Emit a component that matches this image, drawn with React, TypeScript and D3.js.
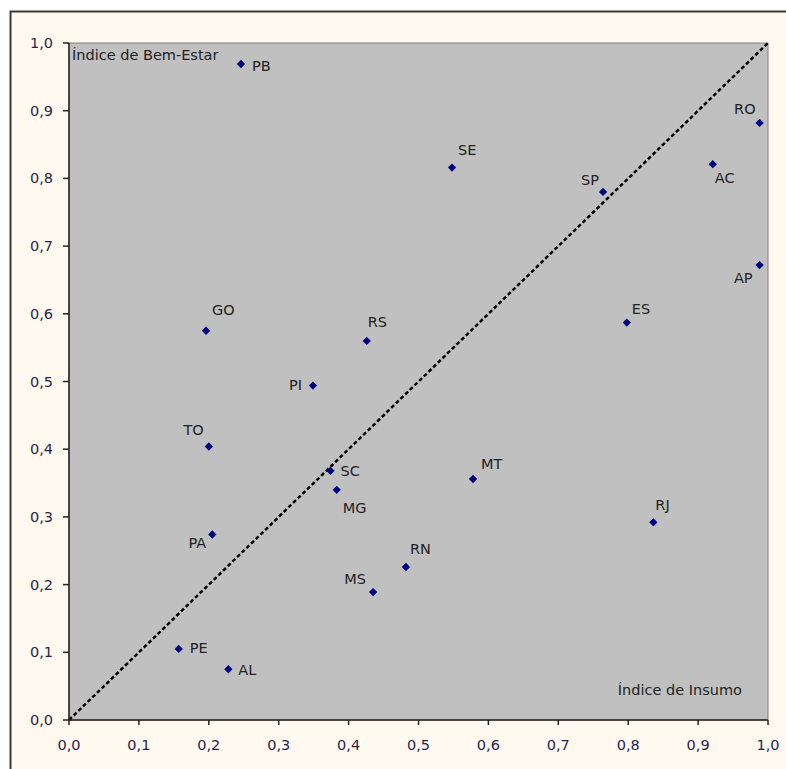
import React from "react";
import * as d3 from "d3";

const states = ["PB","SE","SP","RO","AC","AP","ES","GO","RS","PI","TO","SC","MG","MT","RJ","PA","RN","MS","PE","AL"];
const insumo = [0.246,0.548,0.764,0.988,0.921,0.988,0.798,0.196,0.426,0.349,0.200,0.374,0.383,0.578,0.836,0.205,0.482,0.435,0.157,0.228];
const bemEstar = [0.969,0.816,0.780,0.882,0.821,0.672,0.587,0.575,0.560,0.494,0.404,0.368,0.340,0.356,0.292,0.274,0.226,0.189,0.105,0.075];
const tickValues = [0,0.1,0.2,0.3,0.4,0.5,0.6,0.7,0.8,0.9,1.0];
const yTitle = "Índice de Bem-Estar";
const xTitle = "Índice de Insumo";

// label placement: [dx, dy, anchor]
const labelPlacement: Record<string, [number, number, string]> = {
  PB: [11, 7, "start"], SE: [6, -13, "start"], SP: [-4, -7, "end"], RO: [-4, -9, "end"],
  AC: [2, 19, "start"], AP: [-7, 18, "end"], ES: [5, -9, "start"], GO: [6, -16, "start"],
  RS: [1, -14, "start"], PI: [-11, 4, "end"], TO: [-5, -11, "end"], SC: [10, 5, "start"],
  MG: [6, 23, "start"], MT: [8, -10, "start"], RJ: [2, -12, "start"], PA: [-6, 13, "end"],
  RN: [4, -13, "start"], MS: [-7, -8, "end"], PE: [11, 4, "start"], AL: [10, 6, "start"],
};

const W = 786, H = 769;
const L = 69, R = 768, T = 43, B = 720;
const FONT = "'DejaVu Sans', Verdana, sans-serif";

export default function App() {
  const x = d3.scaleLinear().domain([0, 1]).range([L, R]);
  const y = d3.scaleLinear().domain([0, 1]).range([B, T]);
  const fmt = (v: number) => v.toFixed(1).replace(".", ",");
  const diamond = d3.symbol().type(d3.symbolDiamond2).size(44)() as string;
  const diag = d3.line<number>().x((v) => x(v)).y((v) => y(v))([0, 1]) as string;

  return (
    <svg width={W} height={H} style={{ position: "absolute", left: 0, top: 0 }} fontFamily={FONT}>
      <rect x={0} y={0} width={W} height={H} fill="#ffffff" />
      <rect x={10.5} y={11.5} width={W + 20} height={H + 20} fill="#fff9ef" stroke="#3a3a3a" strokeWidth={2} />
      <rect x={L} y={T} width={R - L} height={B - T} fill="#c0c0c0" stroke="#808080" strokeWidth={1} />
      <path d={diag} stroke="#000" strokeWidth={2.5} strokeDasharray="4,2.5" fill="none" />
      {/* axes */}
      <line x1={L} x2={L} y1={T} y2={B} stroke="#222" strokeWidth={1.5} />
      <line x1={L} x2={R} y1={B} y2={B} stroke="#222" strokeWidth={1.5} />
      {tickValues.map((t) => (
        <g key={"y" + t}>
          <line x1={L - 6} x2={L} y1={y(t)} y2={y(t)} stroke="#222" strokeWidth={1.5} />
          <text x={53} y={y(t)} dy="0.35em" textAnchor="end" fontSize={14.5} fill="#2a1f4a">{fmt(t)}</text>
        </g>
      ))}
      {tickValues.map((t) => (
        <g key={"x" + t}>
          <line x1={x(t)} x2={x(t)} y1={B} y2={B + 5} stroke="#222" strokeWidth={1.5} />
          <text x={x(t)} y={750} textAnchor="middle" fontSize={14.5} fill="#2a1f4a">{fmt(t)}</text>
        </g>
      ))}
      <text x={72} y={60} fontSize={14.5} fill="#222">{yTitle}</text>
      <text x={742} y={695} textAnchor="end" fontSize={14.5} fill="#222">{xTitle}</text>
      {states.map((s, i) => {
        const cx = x(insumo[i]);
        const cy = y(bemEstar[i]);
        const [dx, dy, anchor] = labelPlacement[s];
        return (
          <g key={s}>
            <path d={diamond} transform={`translate(${cx},${cy})`} fill="#000080" />
            <text x={cx + dx} y={cy + dy} textAnchor={anchor as any} fontSize={14.5} fill="#222">{s}</text>
          </g>
        );
      })}
    </svg>
  );
}
